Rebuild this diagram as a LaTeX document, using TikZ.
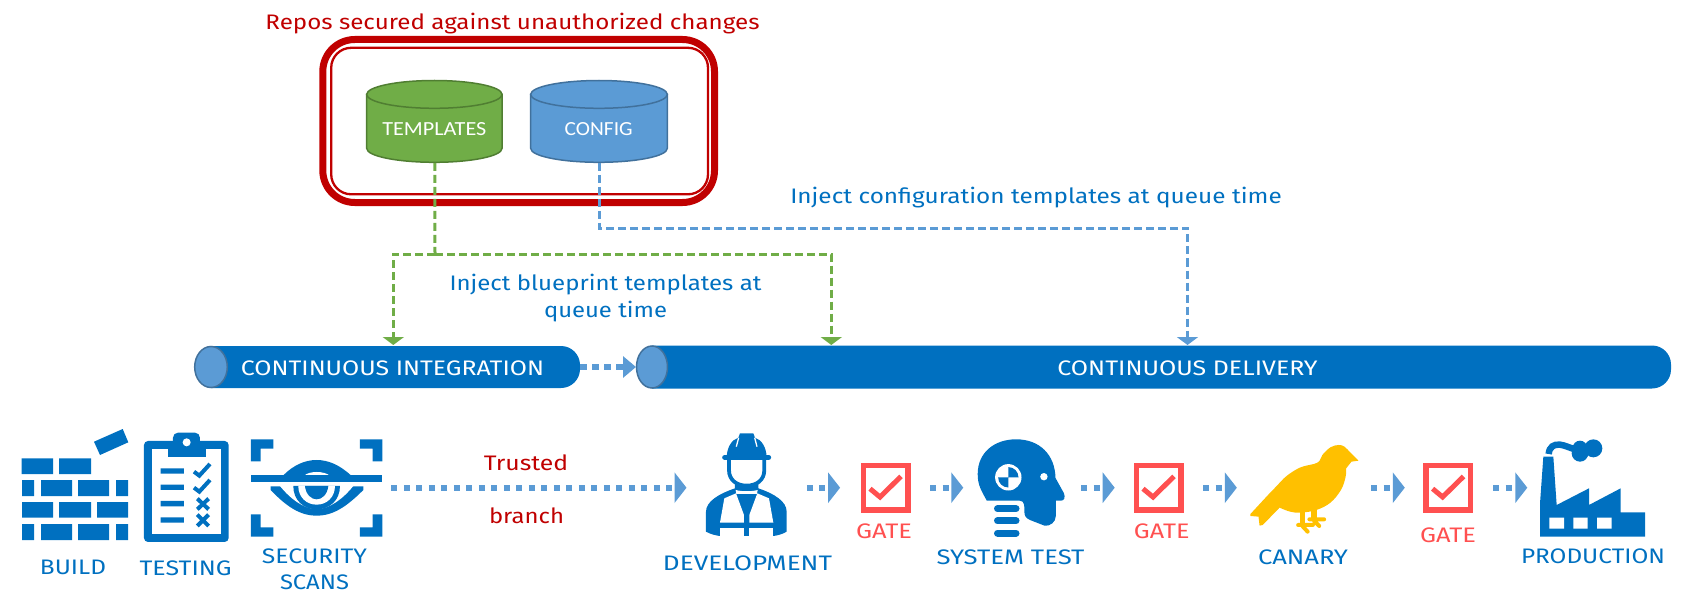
\documentclass[tikz,border=0pt]{standalone}
\usepackage{fontspec}
\usepackage{graphicx}
\setmainfont{Fira Sans}
\newfontfamily\calfont{Carlito}
\usetikzlibrary{arrows.meta}
\definecolor{bl}{HTML}{0070C0}
\definecolor{lb}{HTML}{5B9BD5}
\definecolor{lbd}{HTML}{41719C}
\definecolor{rd}{HTML}{C00000}
\definecolor{gt}{HTML}{FF5050}
\definecolor{gr}{HTML}{70AD47}
\definecolor{grd}{HTML}{507E32}
\definecolor{ye}{HTML}{FFC000}
\newcommand\fw[2]{\resizebox{#1pt}{\height}{#2}}
\tikzset{
  lbl/.style={inner sep=0pt,outer sep=0pt,font=\fontsize{21}{26}\selectfont,align=center},
  bluetxt/.style={lbl,text=bl},
  redtxt/.style={lbl,text=rd},
  gatetxt/.style={lbl,text=gt},
  whitetxt/.style={lbl,text=white},
  cyltxt/.style={inner sep=0pt,text=white,font=\calfont\fontsize{20}{24}\selectfont},
  gatebox/.style={draw=gt,line width=5.3pt,fill=white,minimum size=44.7pt,inner sep=0pt},
  gatecheck/.style={draw=gt,line width=5pt},
  iconbox/.style={inner sep=0pt,outer sep=0pt,minimum height=20pt},
  flow/.style={draw=lb,line width=6pt,dash pattern=on 6pt off 6.5pt,-{Triangle[length=12pt,width=30pt]}},
  gdash/.style={draw=gr,line width=3pt,dash pattern=on 8pt off 4pt},
  bdash/.style={draw=lb,line width=3pt,dash pattern=on 8pt off 4pt},
  gtip/.style={-{Triangle[length=8pt,width=21pt]}},
  tubeend/.style={fill=lb,draw=lbd,line width=1.5pt},
  zoomA/.style={shift={(0,390)},x=0.3333pt,y=-0.3333pt},
  zoomB/.style={shift={(620,390)},x=0.3333pt,y=-0.3333pt},
  zoomC/.style={shift={(1020,390)},x=0.35075pt,y=-0.3333pt},
  zoomD/.style={shift={(1530,430)},x=0.3333pt,y=-0.3333pt},
}
\begin{document}
\begin{tikzpicture}[x=1pt,y=-1pt]
\useasboundingbox (0,0) rectangle (1682,607);

% repository frame
\draw[rd,line width=7pt,rounded corners=32pt] (322.8,39.5) rectangle (714.5,202.5);
\draw[rd,line width=2.3pt,rounded corners=20pt] (331.2,47.8) rectangle (708,194.3);
\node[redtxt] (repolbl) at (512.5,23.5) {\fw{494}{Repos secured against unauthorized changes}};

% cylinders
\draw[fill=gr,draw=grd,line width=1.5pt] (366.7,94.4) -- (366.7,148.4) arc[start angle=180,end angle=360,x radius=67.65,y radius=-13.9] -- (502,94.4) -- cycle;
\draw[fill=gr,draw=grd,line width=1.5pt] (434.35,94.4) ellipse[x radius=67.65,y radius=13.9];
\draw[fill=lb,draw=lbd,line width=1.5pt] (530.7,94.4) -- (530.7,148.4) arc[start angle=180,end angle=360,x radius=68.3,y radius=-13.9] -- (667.3,94.4) -- cycle;
\draw[fill=lb,draw=lbd,line width=1.5pt] (599,94.4) ellipse[x radius=68.3,y radius=13.9];
\node[cyltxt,minimum width=135pt,minimum height=82pt] (tpl) at (434.8,121.6) {};
\node[cyltxt] (tpllbl) at (434.3,129.5) {\fw{104}{TEMPLATES}};
\node[cyltxt,minimum width=136pt,minimum height=82pt] (cfg) at (599.2,121.6) {};
\node[cyltxt] (cfglbl) at (598.7,129.5) {\fw{68}{CONFIG}};

% tubes
\fill[bl] (211,346) [rounded corners=19pt] -- (580,346) -- (580,388) [sharp corners] -- (211,388) -- cycle;
\draw[tubeend] (211,367) ellipse[x radius=16.3,y radius=20.5];
\fill[bl] (652,345.5) [rounded corners=19pt] -- (1671,345.5) -- (1671,388.5) [sharp corners] -- (652,388.5) -- cycle;
\draw[tubeend] (652,367) ellipse[x radius=15.5,y radius=21];
\node[iconbox,minimum width=386pt,minimum height=42pt] (ci) at (387,367) {};
\node[iconbox,minimum width=1035pt,minimum height=43pt] (cd) at (1153.5,367) {};
\node[whitetxt] (cilbl) at (392.5,368) {\fw{303}{CONTINUOUS INTEGRATION}};
\node[whitetxt] (cdlbl) at (1187.5,368) {\fw{260}{CONTINUOUS DELIVERY}};

% injection connectors
\coordinate (gj) at (435,254);
\coordinate (citop) at (393.3,345);
\coordinate (cdtopg) at (831.3,345);
\coordinate (bj) at (599.2,228);
\coordinate (cdtopb) at (1187.5,345);
\draw[gdash] (tpl.south) -- (gj);
\draw[gdash,gtip] (gj) -| (citop);
\draw[gdash,gtip] (gj) -| (cdtopg);
\draw[bdash,gtip] (cfg.south) |- (bj) -| (cdtopb);
\node[bluetxt] (injc) at (1036,198) {\fw{491.5}{Inject configuration templates at queue time}};
\node[bluetxt] (injb) at (605.5,298) {\fw{312}{Inject blueprint templates at}\\[1pt]\fw{123}{queue time}};

% CI to CD
\draw[draw=lb,line width=6pt,dash pattern=on 6.5pt off 5.5pt,-{Triangle[length=13pt,width=21pt]}] (ci.east) -- (cd.west);

% brick wall
\fill[bl] (21.7,458.3) rectangle (53,474) (59,458.3) rectangle (91,474)
 (22,480) rectangle (34,496) (41,480) rectangle (72,496) (78,480) rectangle (109,496) (116,480) rectangle (128,496)
 (22,502) rectangle (53,517.5) (59,502) rectangle (91,517.5) (97,502) rectangle (128,517.5)
 (22,524) rectangle (34,540) (41,524) rectangle (72,540) (78,524) rectangle (109,540) (116,524) rectangle (128,540)
 (94,441.7) -- (122.7,429) -- (128.3,442.3) -- (100,455) -- cycle;
\node[bluetxt] (buildlbl) at (73,567.5) {\fw{66}{BUILD}};

% clipboard
\begin{scope}[zoomA]
\fill[bl,rounded corners=4pt] (432,153) rectangle (686,456);
\fill[white] (456,178) rectangle (662,432);
\fill[bl] (503,160) rectangle (617,202);
\fill[bl,rounded corners=5pt] (519,128) rectangle (600,175);
\fill[white] (560,157) circle[radius=12];
\fill[bl] (482,235) rectangle (552,251) (482,284) rectangle (552,300) (482,333) rectangle (552,349) (482,382) rectangle (552,398);
\draw[bl,line width=4pt] (582,245) -- (598,257) -- (630,222) (582,293) -- (598,305) -- (630,270);
\draw[bl,line width=4pt] (592,326) -- (626,358) (626,326) -- (592,358) (592,374) -- (626,408) (626,374) -- (592,408);
\end{scope}
\node[bluetxt] (testlbl) at (185.6,568.5) {\fw{92}{TESTING}};

% scanning eye
\node[iconbox,minimum width=131.4pt] (eye) at (316.7,487.7) {};
\begin{scope}[zoomA]
\fill[bl] (753,148) -- (820,148) -- (820,176) -- (782,176) -- (782,214) -- (753,214) -- cycle;
\fill[bl] (1147,148) -- (1080,148) -- (1080,176) -- (1118,176) -- (1118,214) -- (1147,214) -- cycle;
\fill[bl] (753,440) -- (820,440) -- (820,412) -- (782,412) -- (782,373) -- (753,373) -- cycle;
\fill[bl] (1147,440) -- (1080,440) -- (1080,412) -- (1118,412) -- (1118,373) -- (1147,373) -- cycle;
\fill[bl] (848,258) .. controls (880,225) and (915,210) .. (950,210) .. controls (985,210) and (1020,225) .. (1055,258) -- cycle;
\fill[white] (912,258) .. controls (925,242) and (975,242) .. (990,258) -- cycle;
\fill[bl] (753,256) rectangle (1147,275);
\fill[bl] (812,289) -- (1090,289) -- (1090,300) .. controls (1040,350) and (1000,377) .. (950,377) .. controls (900,377) and (860,350) .. (812,300) -- cycle;
\fill[white] (840,288) -- (1060,288) .. controls (1030,325) and (990,357) .. (950,357) .. controls (910,357) and (870,325) .. (840,288) -- cycle;
\fill[bl] (880,288) .. controls (880,330) and (910,358) .. (950,358) .. controls (990,358) and (1020,330) .. (1020,288) -- cycle;
\fill[white] (895,288) .. controls (895,322) and (920,344) .. (950,344) .. controls (980,344) and (1005,322) .. (1005,288) -- cycle;
\fill[bl] (915,288) .. controls (918,315) and (935,328) .. (950,328) .. controls (965,328) and (982,315) .. (985,288) -- cycle;
\end{scope}
\node[bluetxt] (seclbl) at (314.5,569.5) {\fw{105}{SECURITY}\\\fw{69}{SCANS}};

% worker
\node[iconbox,minimum width=81pt] (dev) at (746.7,487.7) {};
\begin{scope}[zoomB]
\fill[bl] (320,200) .. controls (322,170) and (335,150) .. (355,143) -- (360,130) -- (400,130) -- (405,143) .. controls (425,150) and (438,170) .. (440,200) -- cycle;
\draw[bl,line width=5pt,line cap=round] (314,202) -- (446,202);
\draw[white,line width=1.3pt] (349,170) -- (356,143) (411,170) -- (404,143);
\draw[bl,line width=3.8pt] (327,205) -- (327,240) .. controls (327,270) and (350,287) .. (380,287) .. controls (410,287) and (433,270) .. (433,240) -- (433,205);
\fill[bl] (258,425) -- (258,365) .. controls (258,335) and (295,312) .. (345,295) -- (345,280) .. controls (360,292) and (400,292) .. (415,280) -- (415,295) .. controls (465,312) and (500,335) .. (500,365) -- (500,425) .. controls (487,433) and (470,437) .. (460,438) -- (300,438) .. controls (290,437) and (272,433) .. (258,425) -- cycle;
\fill[white] (313,325) -- (348,310) -- (372,375) -- (372,398) -- (300,398) -- cycle;
\fill[white] (447,325) -- (412,310) -- (388,375) -- (388,398) -- (460,398) -- cycle;
\fill[white] (300,414) rectangle (372,445);
\fill[white] (388,414) rectangle (460,445);
\fill[white] (347,300) .. controls (365,305) and (395,305) .. (413,300) -- (411,312) -- (349,312) -- cycle;
\end{scope}
\node[bluetxt] (devlbl) at (747.5,563.5) {\fw{169}{DEVELOPMENT}};

% crash test head
\node[iconbox,minimum width=86.8pt] (head) at (1021.1,487.7) {};
\fill[bl] (986.7,500.5) .. controls (981,490) and (977.7,485) .. (977.7,474) .. controls (977.7,452) and (995,439.3) .. (1016,439.3) .. controls (1040,439.3) and (1055,455) .. (1055.5,478) -- (1063.8,493) .. controls (1065.5,497) and (1064.5,500.7) .. (1061,500.7) -- (1055.8,500.7) -- (1055.8,516) .. controls (1055.8,522) and (1050,526.5) .. (1044.6,525.7) -- (1030,520) .. controls (1026,518) and (1024.4,516) .. (1024.4,512) -- (1024.2,505) .. controls (1024,502) and (1022,500.5) .. (1019,500.5) -- cycle;
\fill[white] (1043.9,476.7) circle[radius=3.7];
\fill[white] (1008.3,477.3) circle[radius=13.2];
\begin{scope}
\clip (1008.3,477.3) rectangle (1022,463) (1008.3,477.3) rectangle (995,491);
\fill[bl] (1008.3,477.3) circle[radius=10.2];
\end{scope}
\draw[bl,line width=7pt,line cap=round] (997.5,508.7) -- (1016,508.7) (997.5,520.8) -- (1016,520.8) (997.5,533) -- (1016,533);
\node[bluetxt] (syslbl) at (1010.5,557) {\fw{148}{SYSTEM TEST}};

% canary
\node[iconbox,minimum width=108.5pt] (bird) at (1304.3,487.7) {};
\begin{scope}[zoomC]
\fill[ye] plot[smooth,tension=.6] coordinates {(965,212) (942,188) (925,170) (908,165) (885,172) (862,195) (848,218) (800,232) (760,258) (730,290) (708,314) (657,372)} -- (657,378) -- (680,380) -- (683,407) -- (692,405) -- plot[smooth,tension=.6] coordinates {(740,353) (770,365) (800,368) (845,360) (885,338) (915,300) (928,262) (930,235)} -- (945,215) -- cycle;
\draw[ye,line width=5.3pt] (805,365) -- (805,405) (838,355) -- (838,388);
\draw[ye,line width=4pt,line cap=round] (793,405) -- (835,405) (805,408) -- (820,425) (825,388) -- (867,388) (838,392) -- (853,408);
\end{scope}
\node[bluetxt] (canlbl) at (1303,557.5) {\fw{90}{CANARY}};

% factory
\node[iconbox,minimum width=105pt] (fac) at (1592.5,487.7) {};
\begin{scope}[zoomD]
\fill[bl] (30,320) -- (345,320) -- (345,247) -- (272,247) -- (272,175) -- (177,225) -- (177,175) -- (80,225) -- (70,80) -- (40,80) -- (30,220) -- cycle;
\fill[white] (58,263) rectangle (102,296) (130,263) rectangle (173,296) (201,263) rectangle (245,296);
\draw[bl,line width=6.5pt] (56,72) .. controls (58,50) and (72,42) .. (90,44) .. controls (105,46) and (115,52) .. (135,58);
\fill[bl] (150,70) circle[radius=25];
\fill[bl] (190,55) circle[radius=27];
\fill[bl] (150,54) circle[radius=22];
\end{scope}
\node[bluetxt] (prodlbl) at (1593,556) {\fw{144}{PRODUCTION}};

% gates
\node[gatebox] (g1) at (885.5,487.7) {};
\node[gatebox] (g2) at (1158.7,487.7) {};
\node[gatebox] (g3) at (1448.3,487.7) {};
\draw[gatecheck] (860.7+9.3,462.7+26) -- (860.7+19.3,462.7+34.3) -- (860.7+40.3,462.7+13.7);
\draw[gatecheck] (1133.7+9.3,462.7+26) -- (1133.7+19.3,462.7+34.3) -- (1133.7+40.3,462.7+13.7);
\draw[gatecheck] (1423.3+9.3,462.7+26) -- (1423.3+19.3,462.7+34.3) -- (1423.3+40.3,462.7+13.7);
\node[gatetxt] (g1lbl) at (884,531.5) {\fw{56}{GATE}};
\node[gatetxt] (g2lbl) at (1161.7,531.5) {\fw{55.5}{GATE}};
\node[gatetxt] (g3lbl) at (1448,535) {\fw{56}{GATE}};

% flows
\draw[flow,shorten <=9pt,shorten >=19.7pt] (eye.east) -- (dev.west);
\draw[flow,shorten <=19.6pt,shorten >=20.4pt] (dev.east) -- (g1.west);
\draw[flow,shorten <=19.7pt,shorten >=14.4pt] (g1.east) -- (head.west);
\draw[flow,shorten <=16.5pt,shorten >=19pt] (head.east) -- (g2.west);
\draw[flow,shorten <=19.4pt,shorten >=13.2pt] (g2.east) -- (bird.west);
\draw[flow,shorten <=12.5pt,shorten >=18.5pt] (bird.east) -- (g3.west);
\draw[flow,shorten <=19.7pt,shorten >=12.7pt] (g3.east) -- (fac.west);

\node[redtxt] (trust) at (526,463) {\fw{84.5}{Trusted}};
\node[redtxt] (branch) at (526.5,515.5) {\fw{75}{branch}};
\end{tikzpicture}
\end{document}
